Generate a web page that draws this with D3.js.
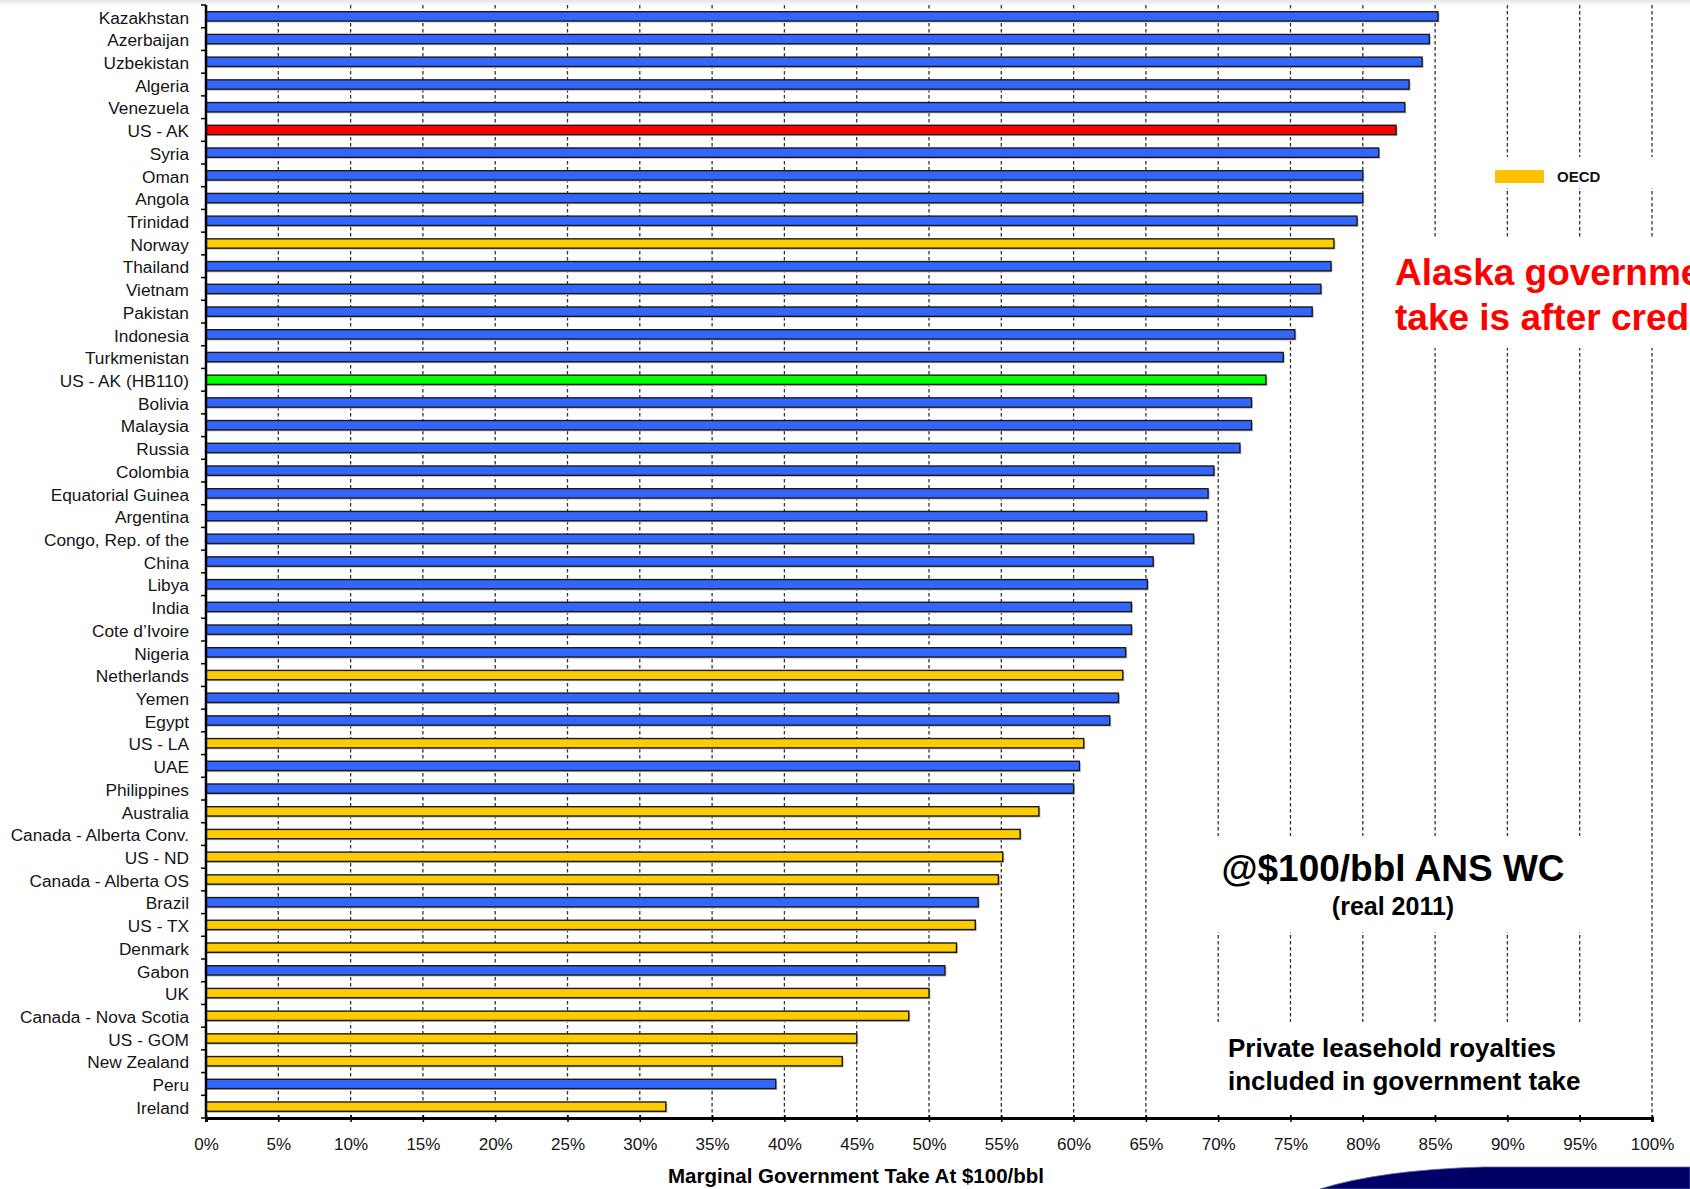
<!DOCTYPE html>
<html>
<head>
<meta charset="utf-8">
<script src="https://cdn.jsdelivr.net/npm/d3@7"></script>
<style>
  html, body { margin: 0; padding: 0; background: #fff; }
  svg { display: block; font-family: "Liberation Sans", Arial, Helvetica, sans-serif; }
</style>
</head>
<body>
<svg id="chart" width="1690" height="1189"></svg>
<script>
// Countries / fiscal regimes, ranked by marginal government take
const categories = [
  "Kazakhstan", "Azerbaijan", "Uzbekistan", "Algeria", "Venezuela", "US - AK",
  "Syria", "Oman", "Angola", "Trinidad", "Norway", "Thailand", "Vietnam",
  "Pakistan", "Indonesia", "Turkmenistan", "US - AK (HB110)", "Bolivia",
  "Malaysia", "Russia", "Colombia", "Equatorial Guinea", "Argentina",
  "Congo, Rep. of the", "China", "Libya", "India", "Cote d\u2019Ivoire",
  "Nigeria", "Netherlands", "Yemen", "Egypt", "US - LA", "UAE", "Philippines",
  "Australia", "Canada - Alberta Conv.", "US - ND", "Canada - Alberta OS",
  "Brazil", "US - TX", "Denmark", "Gabon", "UK", "Canada - Nova Scotia",
  "US - GOM", "New Zealand", "Peru", "Ireland"
];

// Marginal government take at $100/bbl, percent
const values = [
  85.2, 84.6, 84.1, 83.2, 82.9, 82.3,
  81.1, 80.0, 80.0, 79.6, 78.0, 77.8, 77.1,
  76.5, 75.3, 74.5, 73.3, 72.3,
  72.3, 71.5, 69.7, 69.3, 69.2,
  68.3, 65.5, 65.1, 64.0, 64.0,
  63.6, 63.4, 63.1, 62.5, 60.7, 60.4, 60.0,
  57.6, 56.3, 55.1, 54.8,
  53.4, 53.2, 51.9, 51.1, 50.0, 48.6,
  45.0, 44.0, 39.4, 31.8
];

// Regime group for each bar: non-OECD, OECD, Alaska current, Alaska HB110
const groups = [
  "non", "non", "non", "non", "non", "ak",
  "non", "non", "non", "non", "oecd", "non", "non",
  "non", "non", "non", "hb110", "non",
  "non", "non", "non", "non", "non",
  "non", "non", "non", "non", "non",
  "non", "oecd", "non", "non", "oecd", "non", "non",
  "oecd", "oecd", "oecd", "oecd",
  "non", "oecd", "oecd", "non", "oecd", "oecd",
  "oecd", "oecd", "non", "oecd"
];

const xTickValues = [0, 5, 10, 15, 20, 25, 30, 35, 40, 45, 50, 55, 60, 65, 70, 75, 80, 85, 90, 95, 100];

const groupColor = { non: "#3366FF", oecd: "#FFCC00", ak: "#FF0000", hb110: "#00FF00" };

const svg = d3.select("#chart");
const plotLeft = 206, plotRight = 1652, plotTop = 5, plotBottom = 1118;

// faint band along the top edge
const defs = svg.append("defs");
const topGrad = defs.append("linearGradient").attr("id", "topfade")
  .attr("x1", 0).attr("y1", 0).attr("x2", 0).attr("y2", 1);
topGrad.append("stop").attr("offset", 0).attr("stop-color", "#e4e4ea");
topGrad.append("stop").attr("offset", 1).attr("stop-color", "#ffffff");
svg.append("rect").attr("x", 0).attr("y", 0).attr("width", 1690).attr("height", 6)
  .attr("fill", "url(#topfade)");

const x = d3.scaleLinear().domain([0, 100]).range([plotLeft, plotRight]);
const y = d3.scaleBand().domain(categories).range([plotTop, plotBottom])
  .paddingInner(0.59).paddingOuter(0.295);

// dashed vertical gridlines
svg.append("g").selectAll("line")
  .data(xTickValues.filter(d => d > 0))
  .join("line")
  .attr("x1", d => x(d)).attr("x2", d => x(d))
  .attr("y1", plotTop).attr("y2", plotBottom)
  .attr("stroke", "#333")
  .attr("stroke-width", 1.3)
  .attr("stroke-dasharray", "3.5,2.5");

// white panels behind annotations
const panels = [
  [1460, 157, 230, 31],
  [1390, 238, 300, 110],
  [1160, 836, 480, 96],
  [1160, 1022, 480, 91]
];
svg.append("g").selectAll("rect").data(panels).join("rect")
  .attr("x", d => d[0]).attr("y", d => d[1])
  .attr("width", d => d[2]).attr("height", d => d[3])
  .attr("fill", "#fff");

const rows = categories.map((c, i) => ({ c, v: values[i], g: groups[i] }));

// bar shadows
svg.append("g").selectAll("rect").data(rows).join("rect")
  .attr("x", x(0) + 1.5)
  .attr("y", d => y(d.c) + 1.5)
  .attr("width", d => x(d.v) - x(0))
  .attr("height", y.bandwidth())
  .attr("fill", "#b8b8b8");

// bars
svg.append("g").selectAll("rect").data(rows).join("rect")
  .attr("x", x(0))
  .attr("y", d => y(d.c))
  .attr("width", d => x(d.v) - x(0))
  .attr("height", y.bandwidth())
  .attr("fill", d => groupColor[d.g])
  .attr("stroke", "#1a1a1a")
  .attr("stroke-width", 1.4);

// category axis
const yAxis = svg.append("g").attr("transform", `translate(${plotLeft},0)`)
  .call(d3.axisLeft(y).tickSize(0).tickPadding(17));
yAxis.select(".domain").remove();
yAxis.selectAll("text")
  .attr("font-size", 17.3).attr("fill", "#151515").attr("dy", "0.42em")
  .style("font-family", "'Liberation Sans', Arial, sans-serif");

// tick marks between categories
const bounds = categories.map(c => y(c) - y.step() * y.paddingInner() / 2);
bounds.push(plotBottom);
svg.append("g").selectAll("line").data(bounds).join("line")
  .attr("x1", plotLeft - 5).attr("x2", plotLeft)
  .attr("y1", d => d).attr("y2", d => d)
  .attr("stroke", "#000").attr("stroke-width", 1.5);
svg.append("line")
  .attr("x1", plotLeft).attr("x2", plotLeft).attr("y1", plotTop).attr("y2", plotBottom)
  .attr("stroke", "#000").attr("stroke-width", 2.5);

// value axis
const xAxis = svg.append("g").attr("transform", `translate(0,${plotBottom})`)
  .call(d3.axisBottom(x).tickValues(xTickValues).tickFormat(d => d + "%")
    .tickSize(4).tickPadding(16));
xAxis.select(".domain").attr("stroke", "#000").attr("stroke-width", 3);
xAxis.selectAll(".tick line").attr("y1", -3).attr("y2", 4)
  .attr("stroke", "#000").attr("stroke-width", 1.5);
xAxis.selectAll("text")
  .attr("font-size", 17).attr("fill", "#151515")
  .style("font-family", "'Liberation Sans', Arial, sans-serif");

svg.append("text")
  .attr("x", 856).attr("y", 1183)
  .attr("text-anchor", "middle")
  .attr("font-size", 20.5).attr("font-weight", "bold").attr("fill", "#000")
  .text("Marginal Government Take At $100/bbl");

// legend
svg.append("rect").attr("x", 1495).attr("y", 170).attr("width", 49).attr("height", 13)
  .attr("fill", "#FFC000");
svg.append("text").attr("x", 1557).attr("y", 182)
  .attr("font-size", 15).attr("font-weight", "bold").attr("fill", "#111")
  .text("OECD");

// annotations
const redNote = svg.append("text")
  .attr("font-size", 37).attr("font-weight", "bold").attr("fill", "#FF0000");
redNote.append("tspan").attr("x", 1395).attr("y", 285).text("Alaska government");
redNote.append("tspan").attr("x", 1395).attr("y", 330).text("take is after credits");

svg.append("text").attr("x", 1393).attr("y", 881).attr("text-anchor", "middle")
  .attr("font-size", 37).attr("font-weight", "bold").attr("fill", "#000")
  .text("@$100/bbl ANS WC");
svg.append("text").attr("x", 1393).attr("y", 915).attr("text-anchor", "middle")
  .attr("font-size", 25).attr("font-weight", "bold").attr("fill", "#000")
  .text("(real 2011)");

const note = svg.append("text").attr("font-size", 26).attr("font-weight", "bold").attr("fill", "#000");
note.append("tspan").attr("x", 1228).attr("y", 1057).text("Private leasehold royalties");
note.append("tspan").attr("x", 1228).attr("y", 1090).text("included in government take");

// navy sweep in the lower-right corner
svg.append("path")
  .attr("d", "M1320,1189 Q1380,1170 1483,1167 L1690,1167 L1690,1189 Z")
  .attr("fill", "#000066")
  .attr("stroke", "#5b6aa8").attr("stroke-width", 0.8);
</script>
</body>
</html>
